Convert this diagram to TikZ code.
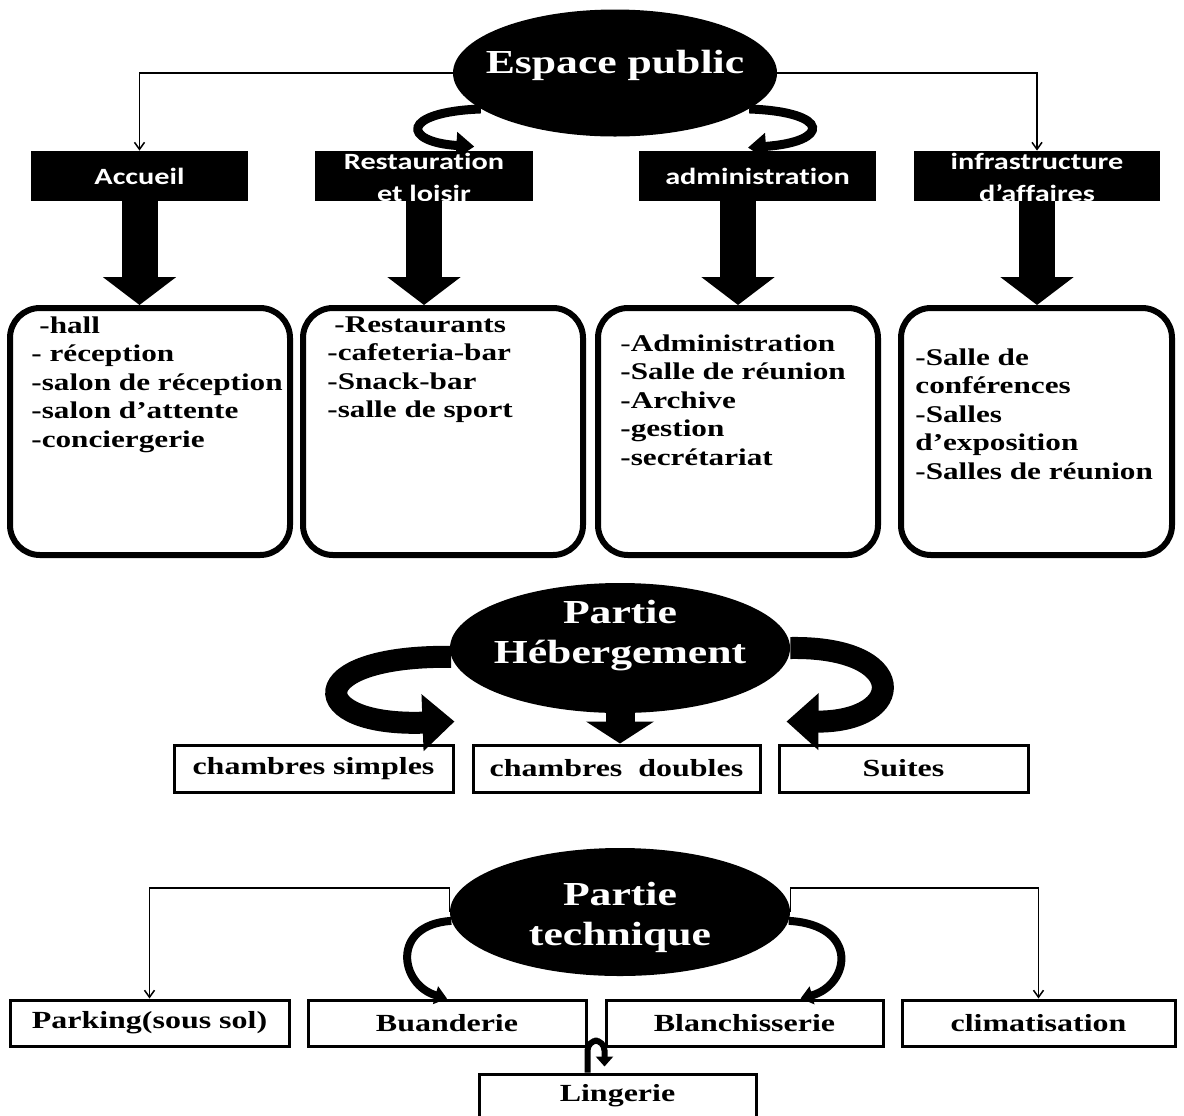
\documentclass[tikz,border=0pt]{standalone}
\usepackage{fontspec}
\setmainfont{Liberation Serif}[FakeStretch=1.3]
\setsansfont{Carlito}[FakeStretch=1.3,Ligatures=NoCommon]
\usepackage{tikz}
\usetikzlibrary{arrows.meta,calc,positioning,shapes.geometric}
\definecolor{Ink}{HTML}{000000}
\definecolor{Paper}{HTML}{FFFFFF}

\begin{document}
\begin{tikzpicture}[x=0.5pt,y=-0.5pt,>=Latex,
    zone/.style={ellipse,fill=Ink,inner sep=0pt},
    zonetxt/.style={text=Paper,inner sep=0pt,align=center,font=\bfseries\fontsize{16.8pt}{20pt}\selectfont},
    headbox/.style={rectangle,fill=Ink,inner sep=0pt,minimum height=25pt},
    headtxt/.style={text=Paper,inner sep=0pt,align=center,font=\sffamily\bfseries\fontsize{11.65pt}{16pt}\selectfont},
    listbox/.style={rectangle,draw=Ink,line width=3pt,rounded corners=15pt,minimum height=123.5pt,minimum width=140pt},
    listtxt/.style={anchor=north west,inner sep=0pt,align=left,font=\bfseries\fontsize{12pt}{14.25pt}\selectfont},
    roombox/.style={rectangle,draw=Ink,line width=1.5pt,inner sep=0pt,minimum height=23.5pt,font=\bfseries\fontsize{12.3pt}{14pt}\selectfont},
    thinarrow/.style={draw=Ink,line width=0.75pt,-{Straight Barb[length=3.5pt,width=5pt]}},
    blockarrow/.style={draw=Ink,line width=18pt,-{Triangle[length=14pt,width=36pt]}},
    bendarrow/.style={draw=Ink,line width=4.5pt,-{Triangle[length=9pt,width=13pt]}},
    bigbend/.style={draw=Ink,line width=11pt,-{Triangle[length=16pt,width=27.5pt]}},
    bigdown/.style={draw=Ink,line width=14.5pt,-{Triangle[length=11pt,width=33.5pt]}},
    smallbend/.style={draw=Ink,line width=4pt,-{Triangle[length=6pt,width=9pt]}},
    uarrow/.style={draw=Ink,line width=3pt,rounded corners=5pt,shorten >=3pt,-{Triangle[length=5pt,width=8.5pt]}}]
  \clip (0,0) rectangle (1184,1115);

  % espace public
  \node[zone,minimum width=162pt,minimum height=63.5pt,label={[zonetxt,yshift=4pt]center:Espace public}] (e1) at (615,73) {};
  \node[headbox,minimum width=108.5pt,label={[headtxt]center:Accueil}] (acc) at (139.5,176) {};
  \node[headbox,minimum width=109pt] (res) at (424,176) {};
  \node[headbox,minimum width=118.5pt,label={[headtxt]center:administration}] (adm) at (757.5,176) {};
  \node[headbox,minimum width=123pt,label={[headtxt,yshift=-0.5pt]center:infrastructure\\d’affaires}] (inf) at (1037,176) {};

  \node[listbox] (b1) at (150,431.5) {};
  \node[listbox] (b2) at (443,431.5) {};
  \node[listbox] (b3) at (738,431.5) {};
  \node[listbox,minimum width=135.5pt] (b4) at (1036.5,431.5) {};
  \node[listtxt] (t1) at ($(b1.north west)+(24,11)$) {\hspace*{4pt}-hall\\- réception\\-salon de réception\\-salon d’attente\\-conciergerie};
  \node[listtxt] (t2) at ($(b2.north west)+(27,11)$) {\hspace*{3.5pt}-Restaurants\\-cafeteria-bar\\-Snack-bar\\-salle de sport};
  \node[listtxt] (t3) at ($(b3.north west)+(25,29)$) {{\mdseries -}Administration\\-Salle de réunion\\-Archive\\-gestion\\-secrétariat};
  \node[listtxt] (t4) at ($(b4.north west)+(17,43)$) {-Salle de\\conférences\\-Salles\\d’exposition\\-Salles de réunion};

  \draw[thinarrow] (e1.west) -| (acc.north);
  \draw[thinarrow] (e1.east) -| (inf.north);
  \draw[bendarrow] (e1.195) .. controls (400,112) and (402,142) .. ($(res.north west)!0.73!(res.north east)+(0,-4)$);
  \draw[bendarrow] (e1.-15) .. controls (832,112) and (830,142) .. ($(adm.north west)!0.46!(adm.north east)+(0,-3)$);
  \node[headtxt,yshift=-0.5pt] (rest) at (res) {Restauration\\et loisir};
  \draw[blockarrow] (acc.south) -- (acc.south |- b1.north);
  \draw[blockarrow] (res.south) -- (res.south |- b2.north);
  \draw[blockarrow] (b3.north |- adm.south) -- (b3.north);
  \draw[blockarrow] (inf.south) -- (inf.south |- b4.north);

  % hebergement
  \node[zone,minimum width=170pt,minimum height=65pt,label={[zonetxt,yshift=6pt]center:Partie\\Hébergement}] (e2) at (620,648) {};
  \node[roombox,minimum width=139.5pt] (cs) at (313.5,768.5) {chambres simples};
  \node[roombox,minimum width=143.5pt] (cd) at (616.5,768.5) {chambres~~doubles};
  \node[roombox,minimum width=124.5pt] (su) at (903.5,768.5) {Suites};
  \draw[bigbend] (e2.183) .. controls (300,655) and (305,727) .. ($(cs.north east)+(0,-22)$);
  \draw[bigbend] (e2.east) .. controls (910,646) and (908,722) .. ($(su.north west)+(9,-22)$);
  \draw[bigdown] (e2.south) -- (e2.south |- cd.north);

  % technique
  \node[zone,minimum width=170pt,minimum height=64pt,label={[zonetxt,yshift=-2.5pt]center:Partie\\technique}] (e3) at (620,912) {};
  \node[roombox,minimum width=139.5pt,minimum height=23pt] (pk) at (149.5,1023) {Parking(sous sol)};
  \node[roombox,minimum width=139pt,minimum height=23pt] (bu) at (447,1023) {Buanderie};
  \node[roombox,minimum width=138.5pt,minimum height=23pt] (bl) at (744.5,1023) {Blanchisserie};
  \node[roombox,minimum width=136.5pt,minimum height=23pt] (cl) at (1038.5,1023) {climatisation};
  \node[roombox,minimum width=138.5pt,minimum height=22pt] (lin) at (617.5,1096) {Lingerie};
  \draw[thinarrow] (e3.west) -- ++(0,-24) -| (pk.north);
  \draw[thinarrow] (e3.east) -- ++(0,-24) -| (cl.north);
  \draw[smallbend] (e3.183) .. controls (390,925) and (400,985) .. (bu.north);
  \draw[smallbend] (e3.-3) .. controls (860,925) and (850,985) .. ($(bl.north west)!0.7!(bl.north east)$);
  \path (bu.south east) ++(0,-7) coordinate (lt);
  \draw[uarrow] (lin.north -| bu.east) -- (lt) -- (lt -| bl.west) -- (lin.north -| bl.west);
\end{tikzpicture}
\end{document}
